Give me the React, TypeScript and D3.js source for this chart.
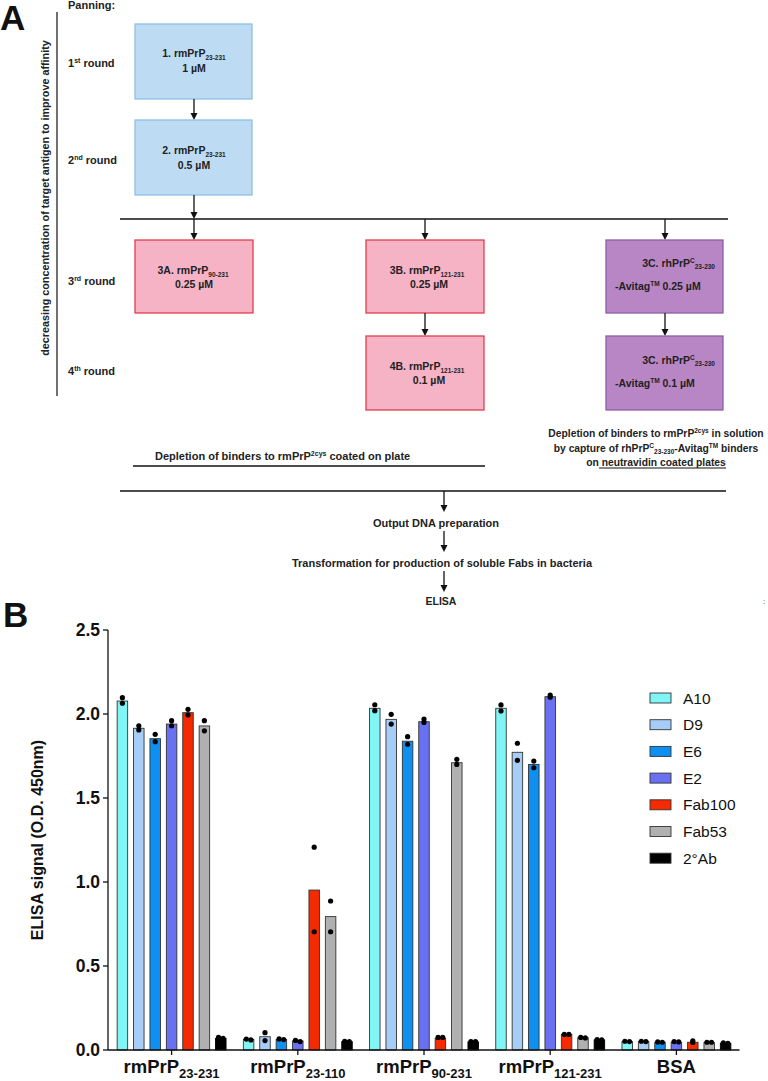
import React from "react";
import * as d3 from "d3";

// ---------- Panel B data ----------
const groups = ["rmPrP23-231", "rmPrP23-110", "rmPrP90-231", "rmPrP121-231", "BSA"];
const groupBase = ["rmPrP", "rmPrP", "rmPrP", "rmPrP", "BSA"];
const groupSub = ["23-231", "23-110", "90-231", "121-231", ""];
const series = ["A10", "D9", "E6", "E2", "Fab100", "Fab53", "2°Ab"];
const seriesColors = ["#80f5f5", "#a6cdf5", "#0d90f2", "#6a70f2", "#f52a00", "#b0b0b0", "#000000"];

const meanA10 = [2.077, 0.063, 2.034, 2.034, 0.05];
const meanD9 = [1.915, 0.079, 1.968, 1.772, 0.05];
const meanE6 = [1.853, 0.063, 1.838, 1.7, 0.046];
const meanE2 = [1.94, 0.054, 1.954, 2.103, 0.046];
const meanFab100 = [2.008, 0.952, 0.07, 0.093, 0.046];
const meanFab53 = [1.929, 0.794, 1.71, 0.073, 0.044];
const meanAb2 = [0.069, 0.05, 0.048, 0.06, 0.04];

const ptsA10 = [[2.097, 2.064], [0.065, 0.06], [2.055, 2.02], [2.054, 2.018], [0.052, 0.05]];
const ptsD9 = [[1.93, 1.905], [0.103, 0.056], [1.998, 1.94], [1.826, 1.724], [0.052, 0.05]];
const ptsE6 = [[1.879, 1.835], [0.066, 0.062], [1.865, 1.82], [1.72, 1.68], [0.048, 0.046]];
const ptsE2 = [[1.96, 1.93], [0.057, 0.05], [1.97, 1.95], [2.113, 2.1], [0.05, 0.048]];
const ptsFab100 = [[1.994, 2.028], [0.704, 1.207], [0.075, 0.075], [0.093, 0.093], [0.045, 0.055]];
const ptsFab53 = [[1.96, 1.9], [0.887, 0.704], [1.73, 1.7], [0.075, 0.072], [0.046, 0.046]];
const ptsAb2 = [[0.075, 0.07], [0.052, 0.05], [0.05, 0.05], [0.062, 0.06], [0.042, 0.04]];

const yTicks = [0, 0.5, 1.0, 1.5, 2.0, 2.5];

const means = [meanA10, meanD9, meanE6, meanE2, meanFab100, meanFab53, meanAb2];
const points = [ptsA10, ptsD9, ptsE6, ptsE2, ptsFab100, ptsFab53, ptsAb2];

const FONT = "'Liberation Sans', Arial, Helvetica, sans-serif";

function Arrow({ x, y1, y2 }: { x: number; y1: number; y2: number }) {
  return (
    <g>
      <line x1={x} x2={x} y1={y1} y2={y2 - 6} stroke="#111" strokeWidth={1.3} />
      <path d={`M${x - 3.5},${y2 - 7} L${x + 3.5},${y2 - 7} L${x},${y2} Z`} fill="#111" />
    </g>
  );
}

function Box({ x, y, w, h, fill, stroke }: any) {
  return <rect x={x} y={y} width={w} height={h} fill={fill} stroke={stroke} strokeWidth={1.3} />;
}

const T = (props: any) => (
  <text fontFamily={FONT} fontWeight="bold" fontSize={10.5} fill="#222" {...props} />
);

function Sub({ children }: any) {
  return (
    <tspan fontSize={6.5} dy={3}>
      {children}
    </tspan>
  );
}

function RoundLabel({ y, n, sup }: { y: number; n: string; sup: string }) {
  return (
    <T x={68} y={y} fontSize={11}>
      {n}
      <tspan fontSize={7} dy={-4}>
        {sup}
      </tspan>
      <tspan dy={4}> round</tspan>
    </T>
  );
}

function PanelA() {
  const blue = { fill: "#bddcf4", stroke: "#8fbfe6" };
  const pink = { fill: "#f7b3c6", stroke: "#e0404c" };
  const purple = { fill: "#b886c5", stroke: "#8e5ea8" };
  return (
    <g>
      <text x={0} y={30} fontFamily={FONT} fontWeight="bold" fontSize={35} fill="#111">
        A
      </text>
      <T x={68} y={9} fontSize={11}>
        Panning:
      </T>
      <line x1={57} x2={57} y1={12} y2={396} stroke="#111" strokeWidth={1.2} />
      <T
        x={0}
        y={0}
        fontSize={10.8}
        textAnchor="middle"
        transform="translate(49,198) rotate(-90)"
      >
        decreasing concentration of target antigen to improve affinity
      </T>
      <RoundLabel y={67} n="1" sup="st" />
      <RoundLabel y={164} n="2" sup="nd" />
      <RoundLabel y={285} n="3" sup="rd" />
      <RoundLabel y={375} n="4" sup="th" />

      {/* Round 1 & 2 */}
      <Box x={135} y={24} w={117} h={75} {...blue} />
      <T x={194} y={57} textAnchor="middle">
        1. rmPrP<Sub>23-231</Sub>
      </T>
      <T x={194} y={72} textAnchor="middle">
        1 µM
      </T>
      <Arrow x={194} y1={99} y2={120} />
      <Box x={135} y={120} w={117} h={75} {...blue} />
      <T x={194} y={154} textAnchor="middle">
        2. rmPrP<Sub>23-231</Sub>
      </T>
      <T x={194} y={169} textAnchor="middle">
        0.5 µM
      </T>
      <Arrow x={194} y1={195} y2={219} />

      <line x1={120} x2={728} y1={219} y2={219} stroke="#111" strokeWidth={1.3} />
      <Arrow x={194} y1={219} y2={240} />
      <Arrow x={425} y1={219} y2={240} />
      <Arrow x={665} y1={219} y2={240} />

      {/* 3A */}
      <Box x={135} y={240} w={118} h={73} {...pink} />
      <T x={193} y={274} textAnchor="middle">
        3A. rmPrP<Sub>90-231</Sub>
      </T>
      <T x={194} y={288} textAnchor="middle">
        0.25 µM
      </T>

      {/* 3B / 4B */}
      <Box x={366} y={240} w={118} h={73} {...pink} />
      <T x={427} y={274} textAnchor="middle">
        3B. rmPrP<Sub>121-231</Sub>
      </T>
      <T x={429} y={288} textAnchor="middle">
        0.25 µM
      </T>
      <Arrow x={425} y1={313} y2={336} />
      <Box x={366} y={336} w={118} h={74} {...pink} />
      <T x={427} y={370} textAnchor="middle">
        4B. rmPrP<Sub>121-231</Sub>
      </T>
      <T x={429} y={384} textAnchor="middle">
        0.1 µM
      </T>

      {/* 3C / 4C */}
      <Box x={606} y={240} w={117} h={73} {...purple} />
      <T x={715} y={267} textAnchor="end">
        3C. rhPrP
        <tspan fontSize={6.5} dy={-4}>
          C
        </tspan>
        <tspan fontSize={6.5} dy={6}>
          23-230
        </tspan>
      </T>
      <T x={615} y={290}>
        -Avitag
        <tspan fontSize={6.5} dy={-4}>
          TM
        </tspan>
        <tspan dy={4}> 0.25 µM</tspan>
      </T>
      <Arrow x={665} y1={313} y2={336} />
      <Box x={606} y={336} w={117} h={74} {...purple} />
      <T x={715} y={364} textAnchor="end">
        3C.  rhPrP
        <tspan fontSize={6.5} dy={-4}>
          C
        </tspan>
        <tspan fontSize={6.5} dy={6}>
          23-230
        </tspan>
      </T>
      <T x={615} y={387}>
        -Avitag
        <tspan fontSize={6.5} dy={-4}>
          TM
        </tspan>
        <tspan dy={4}> 0.1 µM</tspan>
      </T>

      {/* Depletion texts */}
      <T x={155} y={460} fontSize={11}>
        Depletion of binders to rmPrP
        <tspan fontSize={7} dy={-4}>
          2cys
        </tspan>
        <tspan dy={4}> coated on plate</tspan>
      </T>
      <line x1={133} x2={485} y1={466} y2={466} stroke="#111" strokeWidth={1.3} />

      <T x={656} y={437} fontSize={10.3} textAnchor="middle">
        Depletion of binders to rmPrP
        <tspan fontSize={6.5} dy={-4}>
          2cys
        </tspan>
        <tspan dy={4}> in solution</tspan>
      </T>
      <T x={656} y={452} fontSize={10.3} textAnchor="middle">
        by capture of rhPrP
        <tspan fontSize={6.5} dy={-4}>
          C
        </tspan>
        <tspan fontSize={6.5} dy={6}>
          23-230
        </tspan>
        <tspan dy={-2}>-Avitag</tspan>
        <tspan fontSize={6.5} dy={-4}>
          TM
        </tspan>
        <tspan dy={4}> binders</tspan>
      </T>
      <T x={656} y={466} fontSize={10.3} textAnchor="middle">
        on neutravidin coated plates
      </T>
      <line x1={599} x2={726} y1={468} y2={468} stroke="#111" strokeWidth={1} />

      <line x1={120} x2={726} y1={491} y2={491} stroke="#111" strokeWidth={1.3} />
      <Arrow x={444} y1={491} y2={512} />
      <T x={436} y={527} fontSize={11} textAnchor="middle">
        Output DNA preparation
      </T>
      <Arrow x={444} y1={531} y2={552} />
      <T x={442} y={567} fontSize={11} textAnchor="middle">
        Transformation for production of soluble Fabs in bacteria
      </T>
      <Arrow x={444} y1={571} y2={592} />
      <T x={441} y={605} fontSize={10.5} textAnchor="middle">
        ELISA
      </T>
      <text x={763} y={604} fontFamily={FONT} fontSize={8} fill="#444">
        :
      </text>
    </g>
  );
}

function PanelB() {
  const y = d3.scaleLinear().domain([0, 2.5]).range([1050, 630]);
  const x0 = d3.scaleBand<string>().domain(groups).range([108.5, 739.5]);
  const x1 = d3
    .scaleBand<string>()
    .domain(series)
    .range([-57.4, 57.4])
    .paddingInner(0.36)
    .paddingOuter(0.18);
  const bw = x1.bandwidth();
  const fmt = d3.format(".1f");
  const axisX = 108;

  return (
    <g fontFamily={FONT}>
      <text x={3} y={627} fontWeight="bold" fontSize={35} fill="#111">
        B
      </text>
      {/* y axis */}
      <line x1={axisX} x2={axisX} y1={y(2.5)} y2={y(0)} stroke="#111" strokeWidth={1.3} />
      {yTicks.map((t) => (
        <g key={t}>
          <line x1={axisX - 5} x2={axisX} y1={y(t)} y2={y(t)} stroke="#111" strokeWidth={1.3} />
          <text
            x={axisX - 8}
            y={y(t)}
            dy="0.35em"
            textAnchor="end"
            fontWeight="bold"
            fontSize={17.5}
            fill="#111"
          >
            {fmt(t)}
          </text>
        </g>
      ))}
      <text
        transform={`translate(43,${(y(0) + y(2.5)) / 2}) rotate(-90)`}
        textAnchor="middle"
        fontWeight="bold"
        fontSize={16}
        fill="#111"
      >
        ELISA signal (O.D. 450nm)
      </text>

      {/* bars */}
      {groups.map((g, gi) => {
        const gc = (x0(g) as number) + x0.bandwidth() / 2;
        return (
          <g key={g}>
            {series.map((s, si) => {
              const bx = gc + (x1(s) as number);
              const v = means[si][gi];
              return (
                <rect
                  key={s}
                  x={bx}
                  y={y(v)}
                  width={bw}
                  height={y(0) - y(v)}
                  fill={seriesColors[si]}
                  stroke={si === 6 ? "#000" : "#333"}
                  strokeWidth={0.9}
                />
              );
            })}
            {series.map((s, si) => {
              const cx = gc + (x1(s) as number) + bw / 2;
              const [a, b] = points[si][gi];
              const close = Math.abs(y(a) - y(b)) < 1.5;
              return (
                <g key={s + "p"}>
                  <circle cx={close ? cx - 2.3 : cx} cy={y(a)} r={2.6} fill="#000" />
                  <circle cx={close ? cx + 2.3 : cx} cy={y(b)} r={2.6} fill="#000" />
                </g>
              );
            })}
          </g>
        );
      })}

      {/* x axis */}
      <line x1={axisX} x2={739.5} y1={y(0)} y2={y(0)} stroke="#111" strokeWidth={1.3} />
      {groups.map((g, gi) => {
        const gc = (x0(g) as number) + x0.bandwidth() / 2;
        return (
          <g key={g + "t"}>
            <line x1={gc} x2={gc} y1={y(0)} y2={y(0) + 5} stroke="#111" strokeWidth={1.3} />
            <text
              x={gc}
              y={1073}
              textAnchor="middle"
              fontWeight="bold"
              fontSize={18.5}
              fill="#111"
            >
              {groupBase[gi]}
              {groupSub[gi] && (
                <tspan fontSize={13} dy={5}>
                  {groupSub[gi]}
                </tspan>
              )}
            </text>
          </g>
        );
      })}

      {/* legend */}
      {series.map((s, si) => {
        const ly = 698 + si * 26.7;
        return (
          <g key={s + "l"}>
            <rect
              x={650}
              y={ly - 5}
              width={21}
              height={10}
              fill={seriesColors[si]}
              stroke="#333"
              strokeWidth={0.9}
            />
            <text x={683} y={ly} dy="0.36em" fontSize={15.5} fill="#111">
              {s}
            </text>
          </g>
        );
      })}
    </g>
  );
}

export default function App() {
  return (
    <svg
      width={768}
      height={1081}
      viewBox="0 0 768 1081"
      style={{ position: "absolute", left: 0, top: 0, background: "#fff" }}
    >
      <rect x={0} y={0} width={768} height={1081} fill="#fff" />
      <PanelA />
      <PanelB />
    </svg>
  );
}
